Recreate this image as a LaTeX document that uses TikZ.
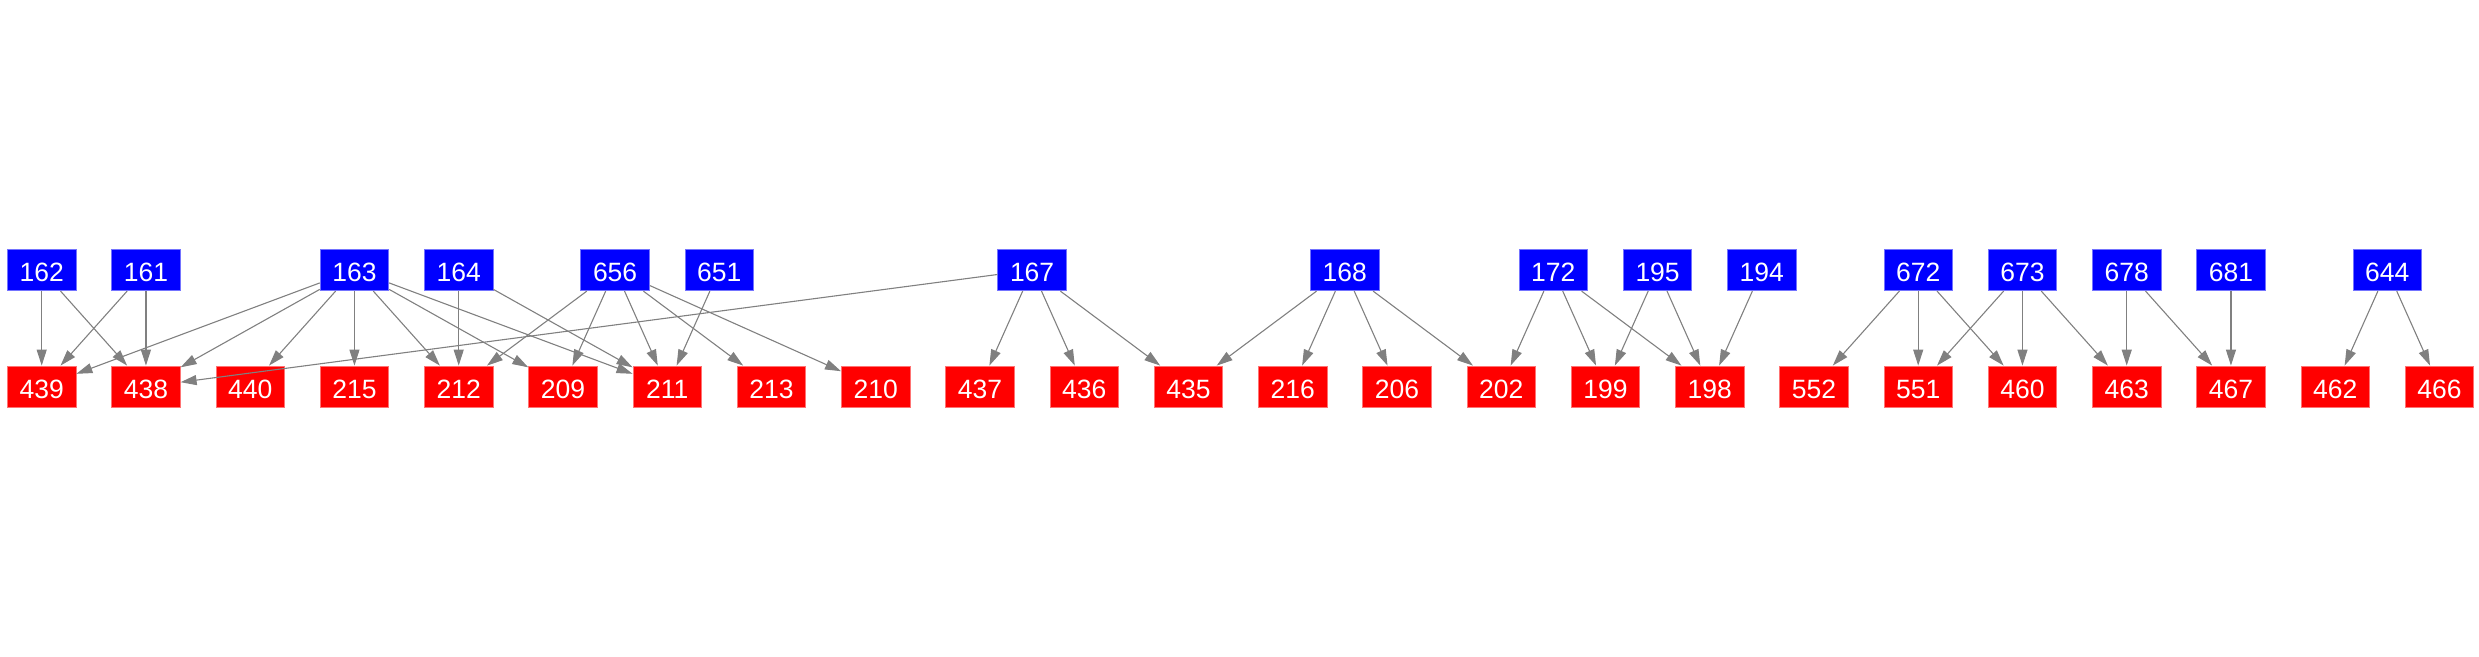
\documentclass[tikz,border=0pt]{standalone}
\usepackage{fontspec}
\setmainfont{Liberation Sans}
\usetikzlibrary{arrows.meta}
\begin{document}
\begin{tikzpicture}[x=1pt,y=-1pt,
  base/.style={rectangle,minimum width=68.5pt,minimum height=41.4pt,inner sep=0pt,
    text=white,font=\fontsize{26.5}{30}\selectfont,text height=23pt,text depth=0pt,line width=0.8pt},
  src/.style={base,fill=blue,draw=blue!55!white},
  dst/.style={base,fill=red,draw=red!55!white},
  edge/.style={draw=gray,line width=1.1pt,-{Triangle[length=16pt,width=10pt]}}]
\useasboundingbox (0,0) rectangle (2479,656);
% top row
\node[src] (t162) at (41.7,270) {162};
\node[src] (t161) at (145.95,270) {161};
\node[src] (t163) at (354.45,270) {163};
\node[src] (t164) at (458.7,270) {164};
\node[src] (t656) at (615.1,270) {656};
\node[src] (t651) at (719.3,270) {651};
\node[src] (t167) at (1032.1,270) {167};
\node[src] (t168) at (1344.8,270) {168};
\node[src] (t172) at (1553.3,270) {172};
\node[src] (t195) at (1657.6,270) {195};
\node[src] (t194) at (1761.8,270) {194};
\node[src] (t672) at (1918.2,270) {672};
\node[src] (t673) at (2022.45,270) {673};
\node[src] (t678) at (2126.7,270) {678};
\node[src] (t681) at (2230.95,270) {681};
\node[src] (t644) at (2387.3,270) {644};
% bottom row
\node[dst] (b439) at (41.7,386.7) {439};
\node[dst] (b438) at (145.95,386.7) {438};
\node[dst] (b440) at (250.2,386.7) {440};
\node[dst] (b215) at (354.45,386.7) {215};
\node[dst] (b212) at (458.7,386.7) {212};
\node[dst] (b209) at (562.95,386.7) {209};
\node[dst] (b211) at (667.2,386.7) {211};
\node[dst] (b213) at (771.45,386.7) {213};
\node[dst] (b210) at (875.7,386.7) {210};
\node[dst] (b437) at (979.95,386.7) {437};
\node[dst] (b436) at (1084.2,386.7) {436};
\node[dst] (b435) at (1188.45,386.7) {435};
\node[dst] (b216) at (1292.7,386.7) {216};
\node[dst] (b206) at (1396.95,386.7) {206};
\node[dst] (b202) at (1501.2,386.7) {202};
\node[dst] (b199) at (1605.45,386.7) {199};
\node[dst] (b198) at (1709.7,386.7) {198};
\node[dst] (b552) at (1813.95,386.7) {552};
\node[dst] (b551) at (1918.2,386.7) {551};
\node[dst] (b460) at (2022.45,386.7) {460};
\node[dst] (b463) at (2126.7,386.7) {463};
\node[dst] (b467) at (2230.95,386.7) {467};
\node[dst] (b462) at (2335.2,386.7) {462};
\node[dst] (b466) at (2439.45,386.7) {466};
% edges
\foreach \s/\d in {162/439,162/438,161/439,161/438,
  163/439,163/438,163/440,163/215,163/212,163/209,163/211,
  164/212,164/211,
  656/212,656/209,656/211,656/213,656/210,
  651/211,
  167/438,167/437,167/436,167/435,
  168/435,168/216,168/206,168/202,
  172/202,172/199,172/198,
  195/199,195/198,194/198,
  672/552,672/551,672/460,
  673/551,673/460,673/463,
  678/463,678/467,681/467,
  644/462,644/466}
  \draw[edge] (t\s) -- (b\d);
\end{tikzpicture}
\end{document}
